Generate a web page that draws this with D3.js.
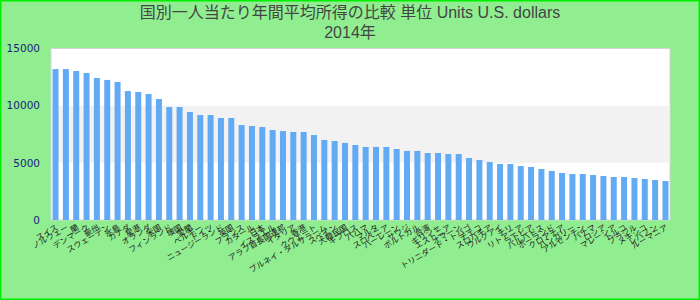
<!doctype html>
<head>
  <meta charset="utf-8">
  <script src="https://d3js.org/d3.v7.min.js"></script>
  <style>
    body { margin: 0; }
  </style>
</head>
<body>
<div id="viz"></div>
<script>

var titleLine1 = '国別一人当たり年間平均所得の比較 単位 Units U.S. dollars'
var titleLine2 = '2014年'

var categories = [
  'スイス', 'ノルウェー', '蘭', 'デンマーク', '豪州', 'スウェーデン', '氷島',
  'カナダ', '星港', 'オランダ', '米国', 'フィンランド', '墺国', '愛蘭',
  'ベルギー', 'ドイツ', 'ニュージーランド', '英国', 'フランス', 'カタール', '日本', 'イスラエル',
  'アラブ首長国連邦', 'イタリア', '香港', 'クウェート', 'ブルネイ・ダルサラーム', 'スペイン', '大韓民国',
  'キプロス', 'バハマ', 'マルタ', 'スロベニア', 'バーレーン', 'サウジ', 'ポルトガル', '台湾',
  'ギリシャ', 'エストニア', 'オマーン', 'トリニダード・トバゴ', 'チェコ', 'スロバキア', 'ウルグアイ',
  'チリ', 'リトアニア', 'ラトビア', 'バルバドス', 'ポーランド', 'クロアチア', 'ハンガリー', 'アルゼンチン',
  'パナマ', 'ロシア', 'マレーシア', 'トルコ', 'ブラジル', 'メキシコ', 'レバノン', 'ルーマニア'
]

var values = [
  13200, 13200, 13030, 12860, 12420, 12250, 12070, 11280, 11200, 11020,
  10580, 9880, 9880, 9450, 9180, 9180, 8920, 8920, 8310, 8220,
  8130, 7870, 7780, 7700, 7700, 7430, 7000, 6910, 6740, 6560,
  6390, 6390, 6390, 6210, 6040, 6040, 5860, 5860, 5770, 5770,
  5420, 5250, 5070, 4900, 4900, 4720, 4640, 4460, 4290, 4110,
  4020, 4020, 3940, 3850, 3760, 3760, 3670, 3590, 3500, 3410
]

var yTicks = [0, 5000, 10000, 15000]
var bandLow = 5000, bandHigh = 10000

var data = categories.map(function(c, i) { return { name: c, value: values[i] } })

var width = 700, height = 300
var plotLeft = 51, plotRight = 670, plotTop = 48.5, plotBottom = 220

var svg = d3.select('#viz').append('svg')
  .attr('width', width)
  .attr('height', height)

// background + bright green frame
svg.append('rect')
  .attr('x', 0.75).attr('y', 0.75)
  .attr('width', width - 1.5).attr('height', height - 1.5)
  .style('fill', '#90ee90')
  .style('stroke', '#00ee00')
  .style('stroke-width', 1.5)

var x = d3.scaleBand()
  .domain(categories)
  .range([plotLeft, plotRight])
  .paddingInner(0.42)
  .paddingOuter(0.15)

var y = d3.scaleLinear()
  .domain([0, 15000])
  .range([plotBottom, plotTop])

// plot area
svg.append('rect')
  .attr('x', plotLeft).attr('y', plotTop)
  .attr('width', plotRight - plotLeft).attr('height', plotBottom - plotTop)
  .style('fill', '#ffffff')
  .style('stroke', '#d4d4d4')
  .style('stroke-width', 1)

svg.append('rect')
  .attr('x', plotLeft + 0.5).attr('y', y(bandHigh))
  .attr('width', plotRight - plotLeft - 1).attr('height', y(bandLow) - y(bandHigh))
  .style('fill', '#f2f2f2')

svg.selectAll('.bar')
  .data(data)
  .enter()
  .append('rect')
  .attr('class', 'bar')
  .attr('x', function(d) { return x(d.name) })
  .attr('width', x.bandwidth())
  .attr('y', function(d) { return y(d.value) })
  .attr('height', function(d) { return y(0) - y(d.value) })
  .style('fill', '#63aaf4')

// y axis labels
svg.selectAll('.ytick')
  .data(yTicks)
  .enter()
  .append('text')
  .attr('class', 'ytick')
  .attr('x', 40)
  .attr('y', function(d) { return y(d) })
  .attr('dy', '0.36em')
  .attr('text-anchor', 'end')
  .style('font-family', 'DejaVu Sans')
  .style('font-size', '10.5px')
  .style('fill', '#1c1c80')
  .text(function(d) { return d })

// x axis labels
svg.selectAll('.xlabel')
  .data(categories)
  .enter()
  .append('text')
  .attr('class', 'xlabel')
  .attr('transform', function(d) {
    return 'translate(' + (x(d) + x.bandwidth() / 2 + 3) + ',' + 229 + ') rotate(-30)'
  })
  .attr('text-anchor', 'end')
  .style('font-family', '"Noto Sans CJK JP", "DejaVu Sans"')
  .style('font-size', '8px')
  .style('fill', '#222')
  .text(function(d) { return d })

// title
svg.selectAll('.title')
  .data([titleLine1, titleLine2])
  .enter()
  .append('text')
  .attr('class', 'title')
  .attr('x', 350)
  .attr('y', function(d, i) { return 18 + i * 20 })
  .attr('text-anchor', 'middle')
  .style('font-family', '"Liberation Sans", "Noto Sans CJK JP", Arial, sans-serif')
  .style('font-size', '16px')
  .style('fill', '#444')
  .text(function(d) { return d })

</script>
</body>
